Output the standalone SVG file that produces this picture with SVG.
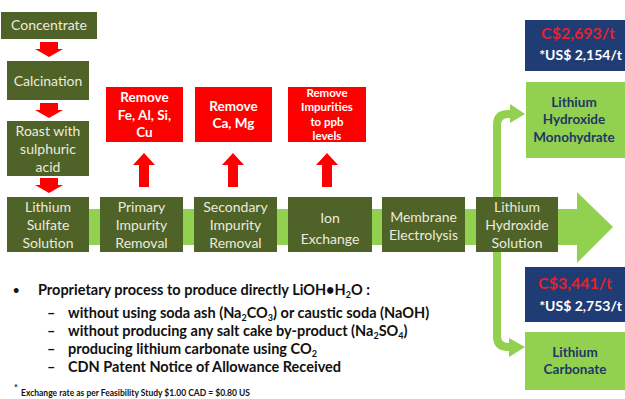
<svg xmlns="http://www.w3.org/2000/svg" width="625" height="399" viewBox="0 0 625 399">
<style>
.dk{fill:#4f6228}
.dt{font-family:Lato,"Liberation Sans",sans-serif;font-size:14px;fill:#ecebdd;text-anchor:middle}
.rd{fill:#ff0000}
.rt{font-family:Lato,"Liberation Sans",sans-serif;font-weight:bold;font-size:13.5px;fill:#ffffff;text-anchor:middle}
.rs{font-size:11.5px}
.lg{fill:#92d050}
.lt{font-family:Lato,"Liberation Sans",sans-serif;font-weight:bold;font-size:13.5px;fill:#1f3864;text-anchor:middle}
.bl{fill:#1f3c74}
.pt{font-family:Lato,"Liberation Sans",sans-serif;font-weight:bold;font-size:16px}
.us{font-size:14px;text-anchor:end}
.bt{font-family:Lato,"Liberation Sans",sans-serif;font-weight:bold;font-size:14.5px;fill:#111111}
.sub{font-size:9px}
</style>
<defs>
<polygon id="dn" points="-9,0 9,0 9,7 14,7 0,15 -14,7 -9,7" fill="#ff0000"/>
<polygon id="up" points="-5,34 5,34 5,12 11,12 0,0 -11,12 -5,12" fill="#ff0000"/>
</defs>
<rect width="625" height="399" fill="#ffffff"/>
<g id="connectors">
<rect x="7" y="209" width="572" height="36" fill="#92d050"/>
<polygon points="577,192 613,227 577,263" fill="#92d050"/>
<path d="M497,197 V125 Q497,114 508,114 H512" fill="none" stroke="#92d050" stroke-width="8"/>
<polygon points="510,104 525,114 510,123" fill="#92d050"/>
<path d="M497,252 V336 Q497,347 508,347 H512" fill="none" stroke="#92d050" stroke-width="8"/>
<polygon points="509,338 525,347 509,357" fill="#92d050"/>
<use href="#dn" x="49" y="42"/>
<use href="#dn" x="49" y="103"/>
<use href="#dn" x="49" y="178"/>
<use href="#up" x="144" y="153"/>
<use href="#up" x="233" y="153"/>
<use href="#up" x="327" y="153"/>
</g>
<g id="concentrate"><rect class="dk" x="1" y="12" width="96" height="27"/><text class="dt" x="49" y="30">Concentrate</text></g>
<g id="calcination"><rect class="dk" x="7" y="61" width="82" height="39"/><text class="dt" x="48" y="86">Calcination</text></g>
<g id="roast"><rect class="dk" x="7" y="121" width="82" height="55"/><text class="dt" x="48" y="136">Roast with</text><text class="dt" x="48" y="154">sulphuric</text><text class="dt" x="48" y="172">acid</text></g>
<g id="sulfate"><rect class="dk" x="7" y="197" width="82" height="55"/><text class="dt" x="48" y="212">Lithium</text><text class="dt" x="48" y="230">Sulfate</text><text class="dt" x="48" y="248">Solution</text></g>
<g id="primary"><rect class="dk" x="100" y="197" width="83" height="55"/><text class="dt" x="141.5" y="212">Primary</text><text class="dt" x="141.5" y="230">Impurity</text><text class="dt" x="141.5" y="248">Removal</text></g>
<g id="secondary"><rect class="dk" x="194" y="197" width="83" height="55"/><text class="dt" x="235.5" y="212">Secondary</text><text class="dt" x="235.5" y="230">Impurity</text><text class="dt" x="235.5" y="248">Removal</text></g>
<g id="ion"><rect class="dk" x="288" y="197" width="84" height="55"/><text class="dt" x="330" y="223">Ion</text><text class="dt" x="330" y="244">Exchange</text></g>
<g id="membrane"><rect class="dk" x="382" y="197" width="83" height="55"/><text class="dt" x="423.5" y="222">Membrane</text><text class="dt" x="423.5" y="240">Electrolysis</text></g>
<g id="lhs"><rect class="dk" x="476" y="197" width="82" height="55"/><text class="dt" x="517" y="212">Lithium</text><text class="dt" x="517" y="230">Hydroxide</text><text class="dt" x="517" y="248">Solution</text></g>
<g id="remove1"><rect class="rd" x="106" y="87" width="77" height="55"/><text class="rt" x="144.5" y="102">Remove</text><text class="rt" x="144.5" y="120">Fe, Al, Si,</text><text class="rt" x="144.5" y="137">Cu</text></g>
<g id="remove2"><rect class="rd" x="195" y="87" width="77" height="55"/><text class="rt" x="233.5" y="111">Remove</text><text class="rt" x="233.5" y="128">Ca, Mg</text></g>
<g id="remove3"><rect class="rd" x="288" y="87" width="78" height="55"/><text class="rt rs" x="327" y="97">Remove</text><text class="rt rs" x="327" y="111">Impurities</text><text class="rt rs" x="327" y="126">to ppb</text><text class="rt rs" x="327" y="140">levels</text></g>
<g id="price1"><rect class="bl" x="525" y="20" width="100" height="51"/><text class="pt" x="578" y="39" fill="#e8202a" text-anchor="middle">C$2,693/t</text><text class="pt us" x="622" y="60" fill="#ffffff">*US$ 2,154/t</text></g>
<g id="lhm"><rect class="lg" x="526" y="82" width="99" height="76"/><text class="lt" x="574" y="107">Lithium</text><text class="lt" x="574" y="124">Hydroxide</text><text class="lt" x="574" y="142">Monohydrate</text></g>
<g id="price2"><rect class="bl" x="525" y="267" width="100" height="55"/><text class="pt" x="575" y="289" fill="#e8202a" text-anchor="middle">C$3,441/t</text><text class="pt us" x="622" y="311" fill="#ffffff">*US$ 2,753/t</text></g>
<g id="carbonate"><rect class="lg" x="525" y="332" width="100" height="58"/><text class="lt" x="575" y="357">Lithium</text><text class="lt" x="575" y="374">Carbonate</text></g>
<g id="notes">
<text class="bt" x="13" y="294" style="font-size:11px">•</text>
<text class="bt" x="38" y="295">Proprietary process to produce directly LiOH•H<tspan class="sub" dy="3">2</tspan><tspan dy="-3">O :</tspan></text>
<text class="bt" x="47" y="318">–</text>
<text class="bt" x="68" y="318">without using soda ash (Na<tspan class="sub" dy="3">2</tspan><tspan dy="-3">CO</tspan><tspan class="sub" dy="3">3</tspan><tspan dy="-3">) or caustic soda (NaOH)</tspan></text>
<text class="bt" x="47" y="336">–</text>
<text class="bt" x="68" y="336">without producing any salt cake by-product (Na<tspan class="sub" dy="3">2</tspan><tspan dy="-3">SO</tspan><tspan class="sub" dy="3">4</tspan><tspan dy="-3">)</tspan></text>
<text class="bt" x="47" y="354">–</text>
<text class="bt" x="68" y="354">producing lithium carbonate using CO<tspan class="sub" dy="3">2</tspan></text>
<text class="bt" x="47" y="372">–</text>
<text class="bt" x="68" y="372">CDN Patent Notice of Allowance Received</text>
<text class="bt" x="14" y="391" style="font-size:9px">*</text>
<text class="bt" x="21" y="396" style="font-size:9px" textLength="229" lengthAdjust="spacingAndGlyphs">Exchange rate as per Feasibility Study $1.00 CAD = $0.80 US</text>
</g>
</svg>
